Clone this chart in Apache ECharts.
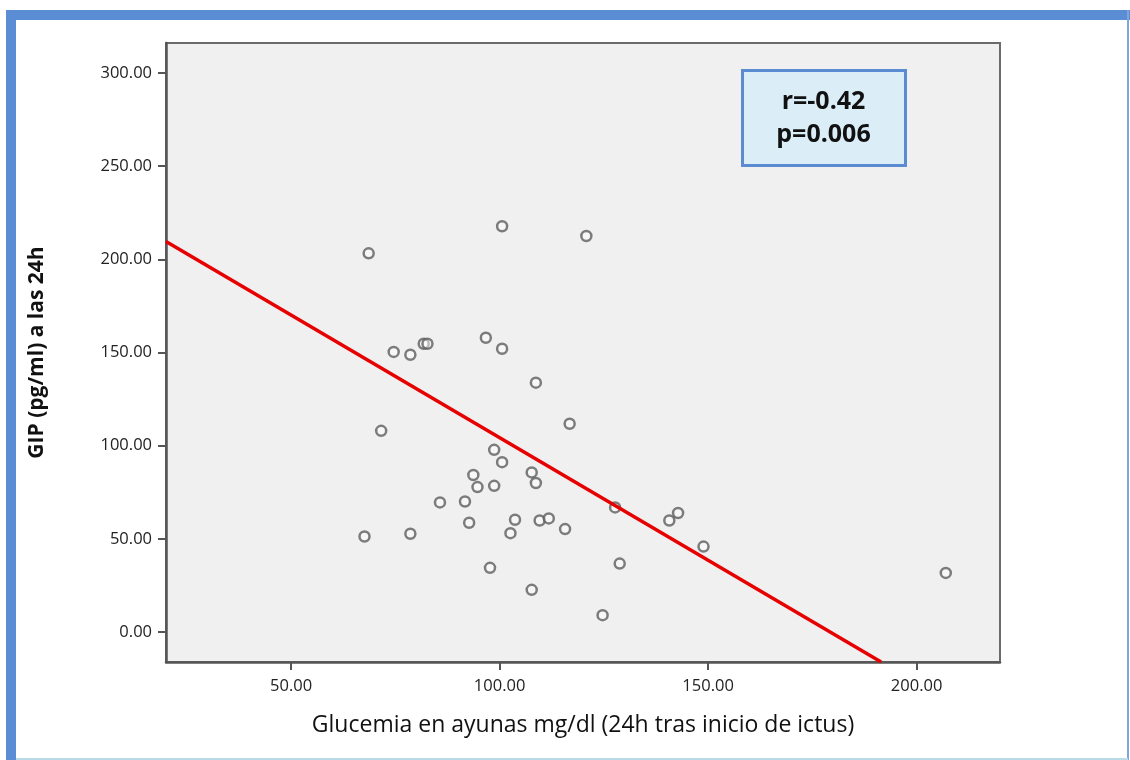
<!DOCTYPE html>
<html>
<head>
<meta charset="utf-8">
<script src="https://cdn.jsdelivr.net/npm/echarts@6/dist/echarts.min.js"></script>
<style>
  html, body { margin: 0; padding: 0; background: #fff; }
  #chart { width: 1130px; height: 760px; }
</style>
</head>
<body>
<div id="chart"></div>
<script>
// glucemia (x) / GIP (y) pairs
var glucemia = [68.6, 100.6, 120.8, 74.6, 78.6, 81.8, 82.7, 96.7, 100.6, 108.7,
  116.8, 71.6, 98.7, 100.6, 93.7, 94.7, 98.7, 107.7, 108.7, 85.7,
  91.7, 92.7, 103.7, 102.6, 109.6, 111.8, 115.7, 127.7, 67.6, 78.6,
  97.7, 107.7, 128.8, 124.7, 140.7, 142.8, 148.9, 207.0];
var gip = [203.2, 217.7, 212.5, 150.3, 148.8, 154.7, 154.7, 157.9, 152.0, 133.8,
  111.8, 108.0, 97.8, 91.2, 84.3, 77.8, 78.5, 85.7, 80.0, 69.6,
  70.1, 58.7, 60.3, 53.1, 59.9, 61.0, 55.3, 66.9, 51.3, 52.8,
  34.5, 22.7, 36.8, 9.1, 59.9, 63.9, 45.9, 31.8];

// fit line end points (as drawn)
var fitX = [20, 191.5];
var fitY = [209.5, -16];

var xTicks = [50, 100, 150, 200];
var yTicks = [0, 50, 100, 150, 200, 250, 300];

var statsText = ["r=-0.42", "p=0.006"];

var points = glucemia.map(function (x, i) { return [x, gip[i]]; });
var fitLine = fitX.map(function (x, i) { return [x, fitY[i]]; });

var myChart = echarts.init(document.getElementById("chart"));
var fmt = function (v) { return Number(v).toFixed(2); };

var option = {
  backgroundColor: "#ffffff",
  animation: false,
  grid: {
    left: 166,
    right: 130,
    top: 43,
    bottom: 98,
    show: true,
    backgroundColor: "#f0f0f0",
    borderColor: "#6b6b6b",
    borderWidth: 2,
  },
  xAxis: {
    type: "value",
    min: 20,
    max: 220,
    name: "Glucemia en ayunas mg/dl (24h tras inicio de ictus)",
    nameLocation: "middle",
    nameGap: 52,
    nameTextStyle: { fontFamily: "Open Sans", fontSize: 23, color: "#111" },
    axisLine: { show: true, onZero: false, lineStyle: { color: "#555", width: 2.5 } },
    axisTick: {
      show: true,
      length: 8,
      customValues: xTicks,
      lineStyle: { color: "#555", width: 2 },
    },
    axisLabel: {
      customValues: xTicks,
      formatter: fmt,
      margin: 16,
      fontFamily: "Open Sans",
      fontSize: 16.5,
      color: "#222",
    },
    splitLine: { show: false },
  },
  yAxis: {
    type: "value",
    min: -16,
    max: 316,
    name: "GIP (pg/ml) a las 24h",
    nameLocation: "middle",
    nameGap: 118,
    nameTextStyle: {
      fontFamily: "Open Sans",
      fontSize: 21,
      fontWeight: "bold",
      color: "#111",
    },
    axisLine: { show: true, onZero: false, lineStyle: { color: "#555", width: 2.5 } },
    axisTick: {
      show: true,
      length: 8,
      customValues: yTicks,
      lineStyle: { color: "#555", width: 2 },
    },
    axisLabel: {
      customValues: yTicks,
      formatter: fmt,
      margin: 14,
      fontFamily: "Open Sans",
      fontSize: 16.5,
      color: "#222",
    },
    splitLine: { show: false },
  },
  graphic: [
    // page frame
    { type: "rect", shape: { x: 6, y: 10, width: 1124, height: 10 }, style: { fill: "#5a8dd4" } },
    { type: "rect", shape: { x: 6, y: 10, width: 10, height: 750 }, style: { fill: "#5a8dd4" } },
    { type: "rect", shape: { x: 1127, y: 10, width: 2, height: 750 }, style: { fill: "#7ea6dc" } },
    { type: "rect", shape: { x: 16, y: 758, width: 1112, height: 2 }, style: { fill: "#b9dbe8" } },
    // stats box
    {
      type: "group",
      left: 741,
      top: 69,
      children: [
        {
          type: "rect",
          shape: { x: 0, y: 0, width: 163, height: 95 },
          style: { fill: "#dbeef8", stroke: "#5b8bd0", lineWidth: 3 },
        },
        {
          type: "text",
          x: 81,
          y: 31,
          style: {
            text: statsText[0],
            fontFamily: "Open Sans",
            fontSize: 25,
            fontWeight: "bold",
            fill: "#111",
            align: "center",
            verticalAlign: "middle",
          },
        },
        {
          type: "text",
          x: 81,
          y: 64,
          style: {
            text: statsText[1],
            fontFamily: "Open Sans",
            fontSize: 25,
            fontWeight: "bold",
            fill: "#111",
            align: "center",
            verticalAlign: "middle",
          },
        },
      ],
    },
  ],
  series: [
    {
      type: "scatter",
      data: points,
      symbol: "circle",
      symbolSize: 10,
      itemStyle: { color: "rgba(255,255,255,0.6)", borderColor: "#5e5e5e", borderWidth: 2.5 },
      z: 3,
    },
    {
      type: "line",
      data: fitLine,
      symbol: "none",
      lineStyle: { color: "#e60000", width: 3.5 },
      z: 4,
    },
  ],
};
myChart.setOption(option, true);
</script>
</body>
</html>
